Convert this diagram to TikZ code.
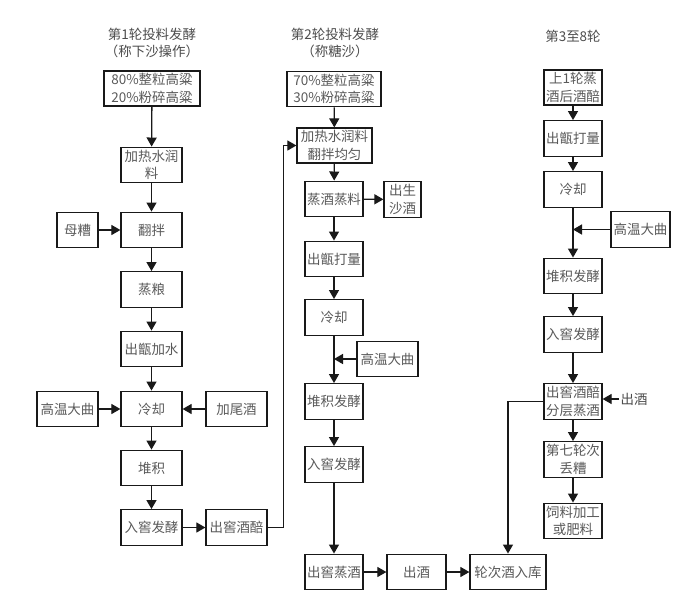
\documentclass[tikz,border=0pt]{standalone}
\usepackage{fontspec}
\newfontfamily\cjk{Noto Sans CJK SC}
\usepackage{tikz}
\usetikzlibrary{arrows}

\tikzset{
  stage/.style={draw=black!90, line width=1.1pt, inner sep=1pt, align=center,
    text=black!65, font=\cjk\fontsize{11.5}{15}\selectfont,
    minimum width=1.74cm, minimum height=1.07cm},
  wide/.style={stage, minimum width=1.83cm},
  label/.style={inner sep=1pt, align=center, text=black!70,
    font=\cjk\fontsize{11.5}{15}\selectfont},
  flow/.style={-triangle 60, line width=1.1pt, draw=black!90}
}

\begin{document}
\begin{tikzpicture}[x=0.03cm, y=-0.03cm]
        \useasboundingbox (0,0) rectangle (693,610);
        % titles
        \node[label] (title1) at (152,43) {第1轮投料发酵\\（称下沙操作）};
        \node[label] (title2) at (335,43) {第2轮投料发酵\\（称糖沙）};
        \node[label] (title3) at (573,36) {第3至8轮};

        % round 1
        \node[stage, minimum width=2.88cm, minimum height=1.05cm] (grain1) at (152,88.5) {80\%整粒高粱\\20\%粉碎高粱};
        \node[wide] (runliao1) at (151.5,165) {加热水润\\料};
        \node[wide] (fanban1) at (151.5,230) {翻拌};
        \node[stage, minimum width=1.23cm] (muzao1) at (77.5,230) {母糟};
        \node[wide] (zhengliang1) at (151.5,289.5) {蒸粮};
        \node[wide] (jiashui1) at (151.5,349) {出甑加水};
        \node[wide] (lengque1) at (151.5,409) {冷却};
        \node[wide] (daqu1) at (67.5,409) {高温大曲};
        \node[wide] (weijiu1) at (236.5,409) {加尾酒};
        \node[wide] (duiji1) at (151.5,468) {堆积};
        \node[wide] (rujiao1) at (151.5,527.5) {入窖发酵};
        \node[wide] (jiupei1) at (236.5,527.5) {出窖酒醅};

        \draw[flow] (grain1) -- (runliao1);
        \draw[flow] (runliao1) -- (fanban1);
        \draw[flow] (muzao1) -- (fanban1);
        \draw[flow] (fanban1) -- (zhengliang1);
        \draw[flow] (zhengliang1) -- (jiashui1);
        \draw[flow] (jiashui1) -- (lengque1);
        \draw[flow] (daqu1) -- (lengque1);
        \draw[flow] (weijiu1) -- (lengque1);
        \draw[flow] (lengque1) -- (duiji1);
        \draw[flow] (duiji1) -- (rujiao1);
        \draw[flow] (rujiao1) -- (jiupei1);

        % round 2
        \node[stage, minimum width=2.82cm] (grain2) at (334,89) {70\%整粒高粱\\30\%粉碎高粱};
        \node[stage, minimum width=2.25cm, minimum height=1.05cm] (runliao2) at (334.5,145.5) {加热水润料\\翻拌均匀};
        \node[stage] (zhengjiu2) at (334,199) {蒸酒蒸料};
        \node[stage, minimum width=1.11cm] (shasha2) at (402.5,199.5) {出生\\沙酒};
        \node[stage] (daliang2) at (334,259) {出甑打量};
        \node[stage] (lengque2) at (334,317.5) {冷却};
        \node[stage, minimum width=1.83cm] (daqu2) at (387.5,359) {高温大曲};
        \node[stage] (duiji2) at (334,401.5) {堆积发酵};
        \node[stage] (rujiao2) at (334,464.5) {入窖发酵};
        \node[stage] (chujiao2) at (334,572) {出窖蒸酒};
        \node[stage, minimum width=1.77cm] (chujiu2) at (416.5,572) {出酒};
        \node[stage, minimum width=2.28cm] (ruku) at (508,572) {轮次酒入库};

        \draw[flow] (jiupei1.east) -- ++(16,0) |- (runliao2.west);
        \draw[flow] (grain2) -- (runliao2);
        \draw[flow] (runliao2) -- (zhengjiu2);
        \draw[flow] (zhengjiu2) -- (shasha2);
        \draw[flow] (zhengjiu2) -- (daliang2);
        \draw[flow] (daliang2) -- (lengque2);
        \draw[flow] (lengque2) -- (duiji2);
        \draw[flow] (daqu2.west) -- (daqu2.west -| lengque2.south);
        \draw[flow] (duiji2) -- (rujiao2);
        \draw[flow] (rujiao2) -- (chujiao2);
        \draw[flow] (chujiao2) -- (chujiu2);
        \draw[flow] (chujiu2) -- (ruku);

        % rounds 3 to 8
        \node[stage, minimum height=1.05cm] (shanglun3) at (573,87.5) {上1轮蒸\\酒后酒醅};
        \node[stage] (daliang3) at (573,138.5) {出甑打量};
        \node[stage] (lengque3) at (573,189.5) {冷却};
        \node[stage, minimum width=1.77cm] (daqu3) at (640.5,229.5) {高温大曲};
        \node[stage] (duiji3) at (573,276) {堆积发酵};
        \node[stage] (rujiao3) at (573,334.5) {入窖发酵};
        \node[stage] (fenceng3) at (573,401.5) {出窖酒醅\\分层蒸酒};
        \node[label] (chujiu3) at (634,399) {出酒};
        \node[stage] (diuzao3) at (573,459.5) {第七轮次\\丢糟};
        \node[stage] (siliao3) at (573,521) {饲料加工\\或肥料};

        \draw[flow] (shanglun3) -- (daliang3);
        \draw[flow] (daliang3) -- (lengque3);
        \draw[flow] (lengque3) -- (duiji3);
        \draw[flow] (daqu3.west) -- (daqu3.west -| lengque3.south);
        \draw[flow] (duiji3) -- (rujiao3);
        \draw[flow] (rujiao3) -- (fenceng3);
        \draw[flow] (chujiu3.west) -- (chujiu3.west -| fenceng3.east);
        \draw[flow] (fenceng3) -- (diuzao3);
        \draw[flow] (diuzao3) -- (siliao3);
        \draw[flow] (fenceng3.west) -| (ruku.north);
\end{tikzpicture}
\end{document}
